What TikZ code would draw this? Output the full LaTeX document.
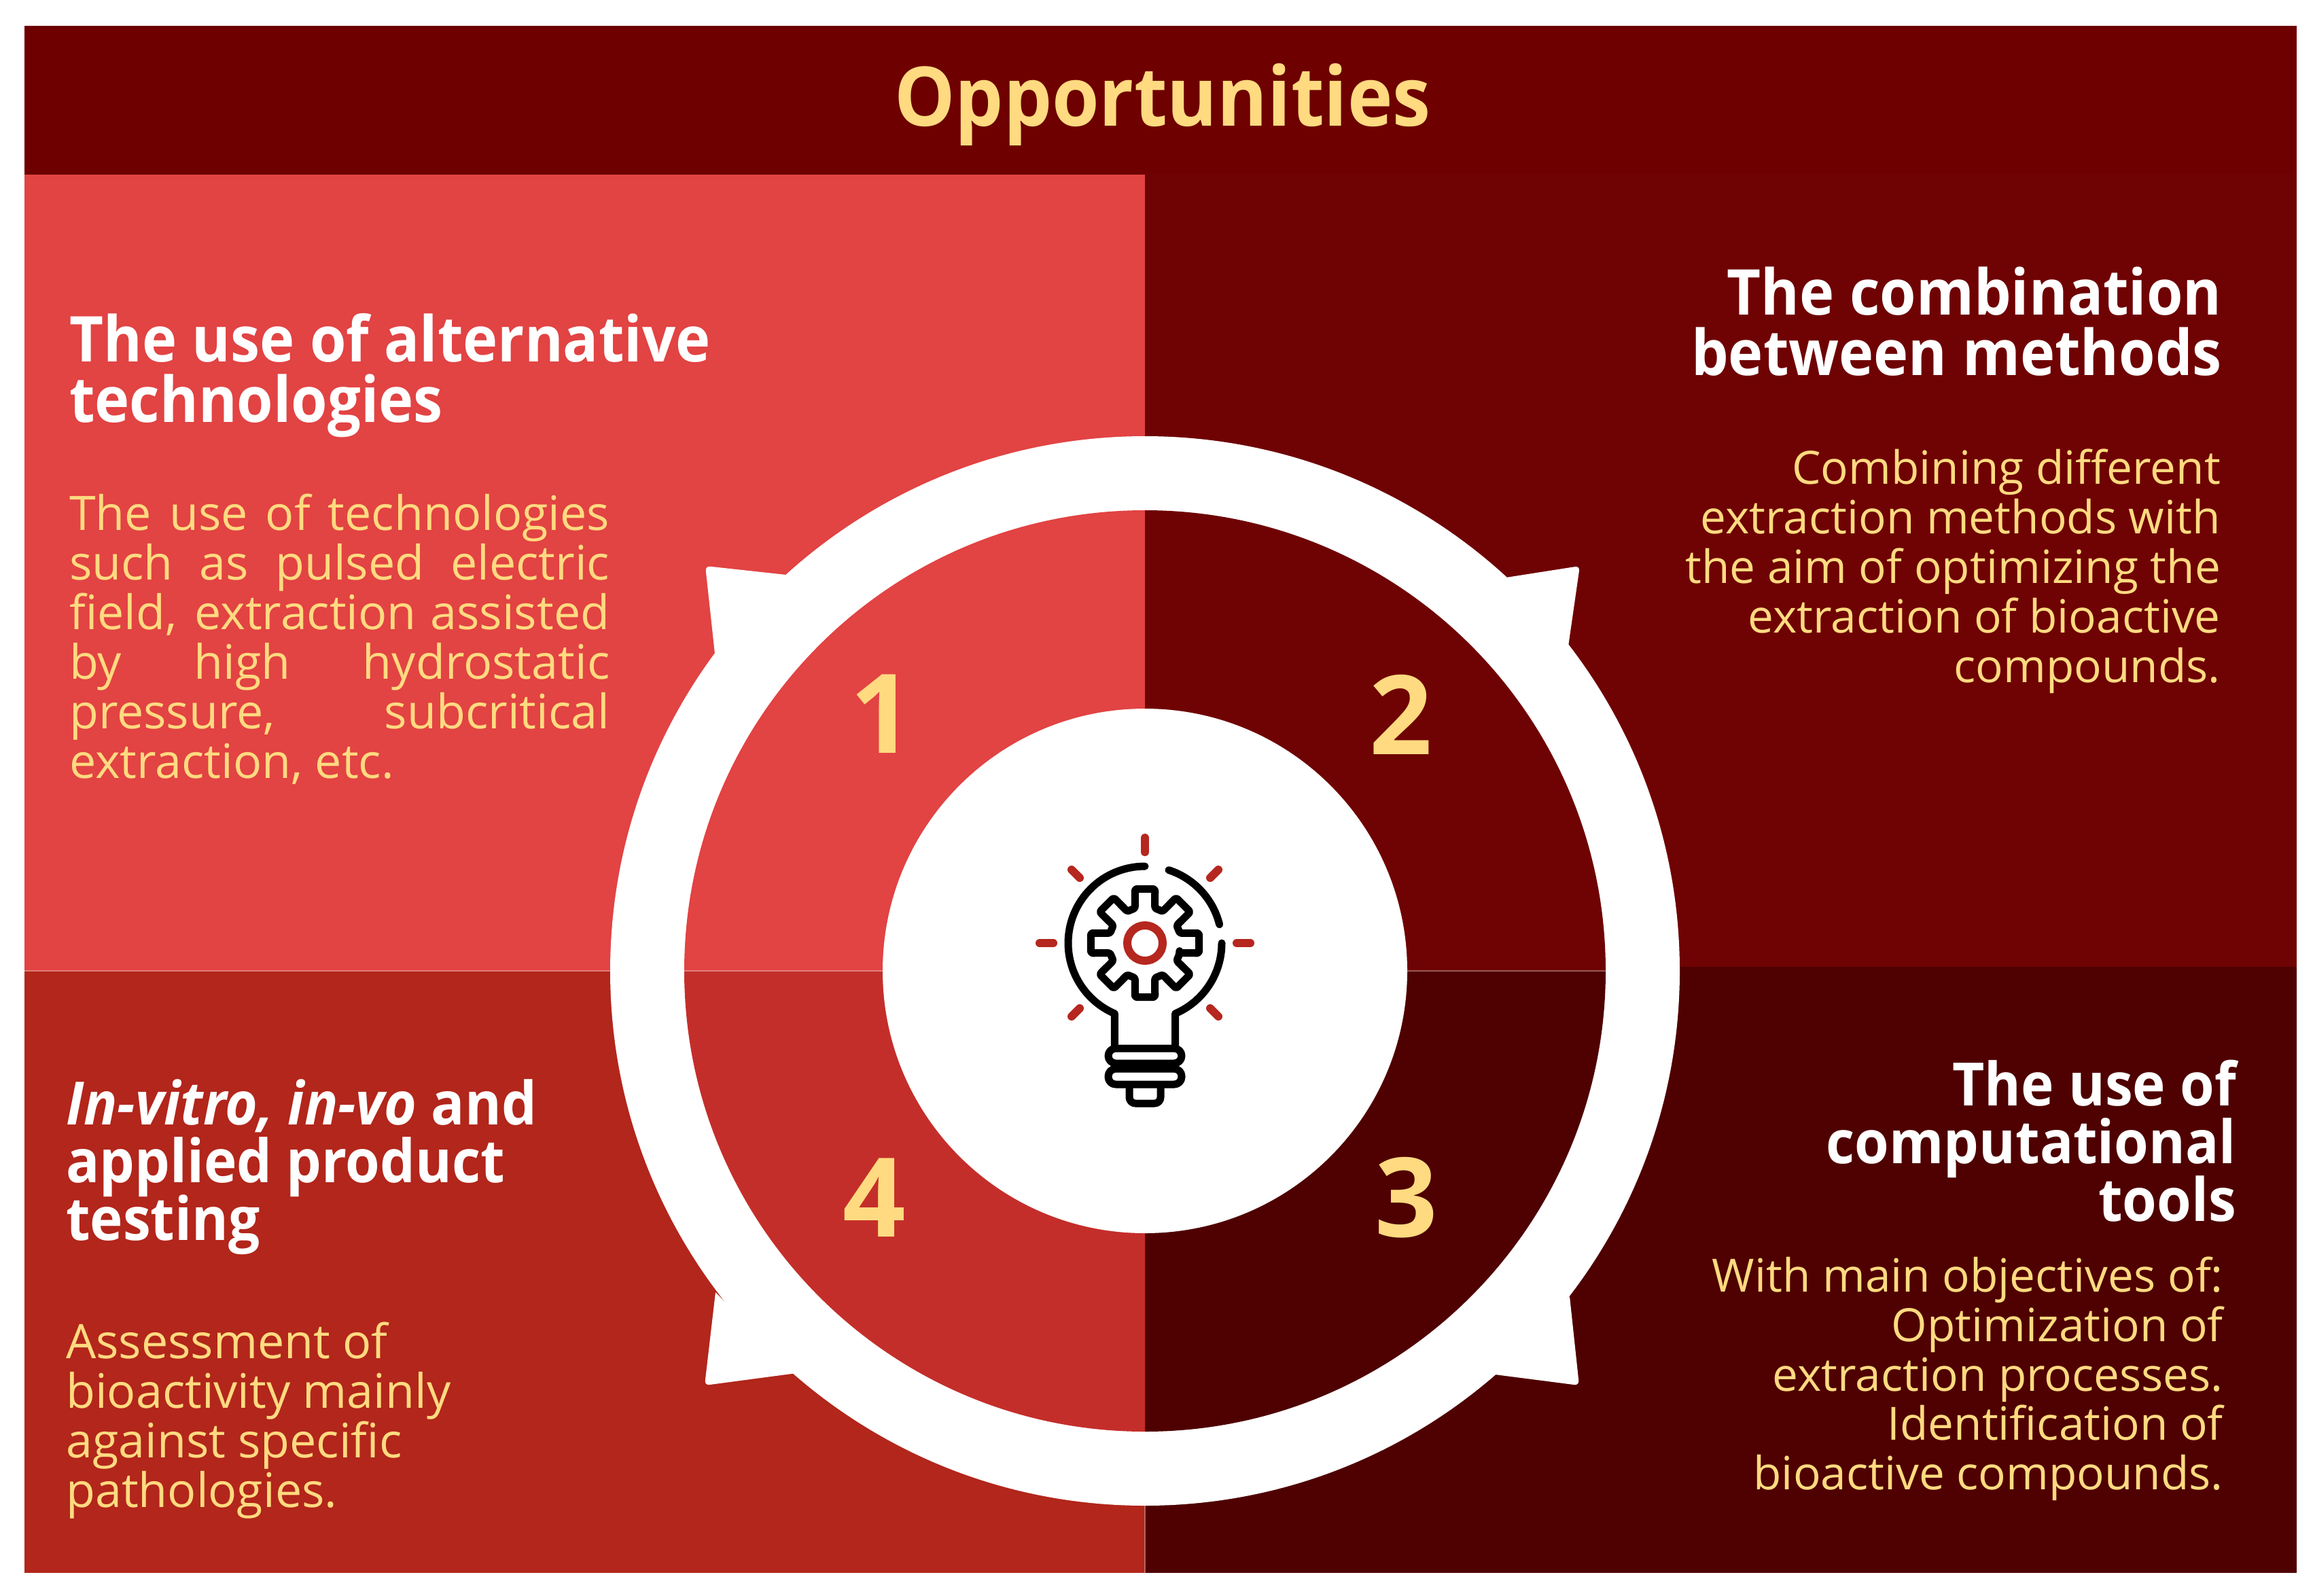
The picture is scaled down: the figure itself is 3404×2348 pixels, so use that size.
\documentclass[tikz,border=0pt]{standalone}
\usepackage{fontspec}
\setmainfont{Open Sans}
\newfontfamily\hfam{Open Sans}[FakeStretch=0.93]
\definecolor{hdr}{HTML}{6E0000}
\definecolor{pa}{HTML}{E24343}
\definecolor{pb}{HTML}{6F0203}
\definecolor{pc}{HTML}{4F0000}
\definecolor{pd}{HTML}{B2261B}
\definecolor{pdi}{HTML}{C42E2A}
\definecolor{yel}{HTML}{FFDA80}
\definecolor{rayred}{HTML}{B5271F}
\newcommand{\hfont}{\hfam\bfseries\fontsize{93}{93}\selectfont}
\newcommand{\hsfont}{\hfam\bfseries\fontsize{88}{88}\selectfont}
\newcommand{\bfont}{\fontsize{70}{70}\selectfont}
\newcommand{\brfont}{\fontsize{67.5}{67.5}\selectfont}
\newcommand{\jl}[1]{\hbox to 795pt{\spaceskip=0pt plus 1000pt\relax #1}}
\tikzset{
  head/.style={inner sep=0pt,text=white,font=\hfont},
  heads/.style={inner sep=0pt,text=white,font=\hsfont},
  body/.style={inner sep=0pt,text=yel,font=\bfont},
  bodyr/.style={inner sep=0pt,text=yel,font=\brfont},
  num/.style={inner sep=0pt,text=yel,anchor=base,font=\bfseries\fontsize{162}{162}\selectfont},
  ray/.style={draw=rayred,line width=12pt,line cap=round},
  blk/.style={draw=black,line width=11pt,line cap=round,line join=round},
  tab/.style={fill=white,draw=none},
  hair/.style={draw=white,opacity=.35,line width=1.5pt}
}
\begin{document}
\begin{tikzpicture}[x=1pt,y=-1pt]
\useasboundingbox (0,0) rectangle (3404,2348);
% panels
\fill[hdr] (36,38) rectangle (3380,258);
\fill[pa] (36,257) rectangle (1685,1429);
\fill[pb] (1685,257) rectangle (3380,1423);
\fill[pd] (36,1429) rectangle (1685,2315);
\fill[pc] (1685,1423) rectangle (3380,2315);
\draw[hair] (36,1429) -- (1685,1429);
\draw[hair] (1685,1429) -- (1685,2315);
% ring and tabs
\coordinate (c) at (1685,1429);
\fill[white] (c) circle[radius=787pt];
\fill[tab] (1157,846) [rounded corners=7pt] -- (1038,833) [sharp corners] -- (1052,962) -- cycle;
\fill[tab] (2210,851) [rounded corners=7pt] -- (2325,833) [sharp corners] -- (2308,951) -- cycle;
\fill[tab] (2200,2023) [rounded corners=7pt] -- (2324,2039) [sharp corners] -- (2310,1908) -- cycle;
\fill[tab] (1172,2021) [rounded corners=7pt] -- (1037,2039) [sharp corners] -- (1053,1902) -- cycle;
% quadrants (arc angles are in ordinary y-up sense, radius in pt)
\fill[pa] (c) -- ++(-678,0) arc[start angle=180,end angle=90,radius=678pt] -- cycle;
\fill[pb] (c) -- ++(0,-678) arc[start angle=90,end angle=0,radius=678pt] -- cycle;
\fill[pc] (c) -- ++(678,0) arc[start angle=0,end angle=-90,radius=678pt] -- cycle;
\fill[pdi] (c) -- ++(0,678) arc[start angle=270,end angle=180,radius=678pt] -- cycle;
\draw[hair] (1007,1429) -- (2363,1429);
\fill[white] (c) circle[radius=386pt];
% title
\node[inner sep=0pt,text=yel,anchor=base,font=\hfam\bfseries\fontsize{121}{121}\selectfont] (title) at (1711,185) {Opportunities};
% panel 1
\node[head,anchor=base west] (h1a) at (102,532) {The use of alternative};
\node[head,anchor=base west] (h1b) at (102,621) {technologies};
\node[body,anchor=base west] (b1a) at (102,780) {\jl{The use of technologies}};
\node[body,anchor=base west] (b1b) at (102,853) {\jl{such as pulsed electric}};
\node[body,anchor=base west] (b1c) at (102,926) {\jl{field, extraction assisted}};
\node[body,anchor=base west] (b1d) at (102,999) {\jl{by high hydrostatic}};
\node[body,anchor=base west] (b1e) at (102,1072) {\jl{pressure, subcritical}};
\node[body,anchor=base west] (b1f) at (102,1145) {extraction, etc.};
% panel 2
\node[head,anchor=base east] (h2a) at (3270,463) {The combination};
\node[head,anchor=base east] (h2b) at (3270,552) {between methods};
\node[bodyr,anchor=base east] (b2a) at (3268,712) {Combining different};
\node[bodyr,anchor=base east] (b2b) at (3268,785) {extraction methods with};
\node[bodyr,anchor=base east] (b2c) at (3268,858) {the aim of optimizing the};
\node[bodyr,anchor=base east] (b2d) at (3268,931) {extraction of bioactive};
\node[bodyr,anchor=base east] (b2e) at (3268,1004) {compounds.};
% panel 3
\node[heads,anchor=base east] (h3a) at (3291,1627) {The use of};
\node[heads,anchor=base east] (h3b) at (3291,1712) {computational};
\node[heads,anchor=base east] (h3c) at (3291,1797) {tools};
\node[bodyr,anchor=base east] (b3a) at (3272,1901) {With main objectives of:};
\node[bodyr,anchor=base east] (b3b) at (3272,1974) {Optimization of};
\node[bodyr,anchor=base east] (b3c) at (3272,2047) {extraction processes.};
\node[bodyr,anchor=base east] (b3d) at (3272,2119) {Identification of};
\node[bodyr,anchor=base east] (b3e) at (3272,2192) {bioactive compounds.};
% panel 4
\node[heads,anchor=base west] (h4a) at (97,1655) {\itshape In-vitro, in-vo \upshape and};
\node[heads,anchor=base west] (h4b) at (97,1740) {applied product};
\node[heads,anchor=base west] (h4c) at (97,1825) {testing};
\node[body,anchor=base west] (b4a) at (97,1999) {Assessment of};
\node[body,anchor=base west] (b4b) at (97,2072) {bioactivity mainly};
\node[body,anchor=base west] (b4c) at (97,2145) {against specific};
\node[body,anchor=base west] (b4d) at (97,2218) {pathologies.};
% numbers
\node[num] (n1) at (1298,1108) {1};
\node[num] (n2) at (2062,1110) {2};
\node[num] (n3) at (2070,1820) {3};
\node[num] (n4) at (1287,1820) {4};
% bulb: local y-up axes, origin at the gear centre
\begin{scope}[shift={(1685,1388)},y=1pt]
 \draw[ray] (0,155) -- (0,134);
 \draw[ray] (155,0) -- (135,0);
 \draw[ray] (-155,0) -- (-135,0);
 \draw[ray] (-108,108) -- (-96,96);
 \draw[ray] (108,108) -- (96,96);
 \draw[ray] (-108,-108) -- (-96,-96);
 \draw[ray] (108,-108) -- (96,-96);
 \draw[blk] (90:113) arc[start angle=90,end angle=246.7,radius=113] -- (-44.7,-150);
 \draw[blk] (72:113) arc[start angle=72,end angle=14,radius=113];
 \draw[blk] (0:113) arc[start angle=0,end angle=-66.7,radius=113] -- (44.7,-150);
 \draw[blk,rounded corners=11pt] (-54,-155) rectangle (54,-177);
 \draw[blk,rounded corners=11pt] (-54,-185) rectangle (54,-208);
 \fill[black] (-44,-177) rectangle (44,-185);
 \draw[blk,rounded corners=9pt] (-23,-213) -- (-23,-236) -- (23,-236) -- (23,-213);
 \draw[blk,rounded corners=3pt]
   (-16:53) -- (-10.5:81) -- (10.5:81) -- (16:53)
   \foreach \a in {45,90,...,315}{
     arc[start angle=\a-29,end angle=\a-16,radius=53]
     -- (\a-10.5:81) -- (\a+10.5:81) -- (\a+16:53)
   }
   arc[start angle=331,end angle=344,radius=53] -- cycle;
 \draw[draw=rayred,line width=12pt] (0,0) circle[radius=26];
\end{scope}
\end{tikzpicture}
\end{document}
